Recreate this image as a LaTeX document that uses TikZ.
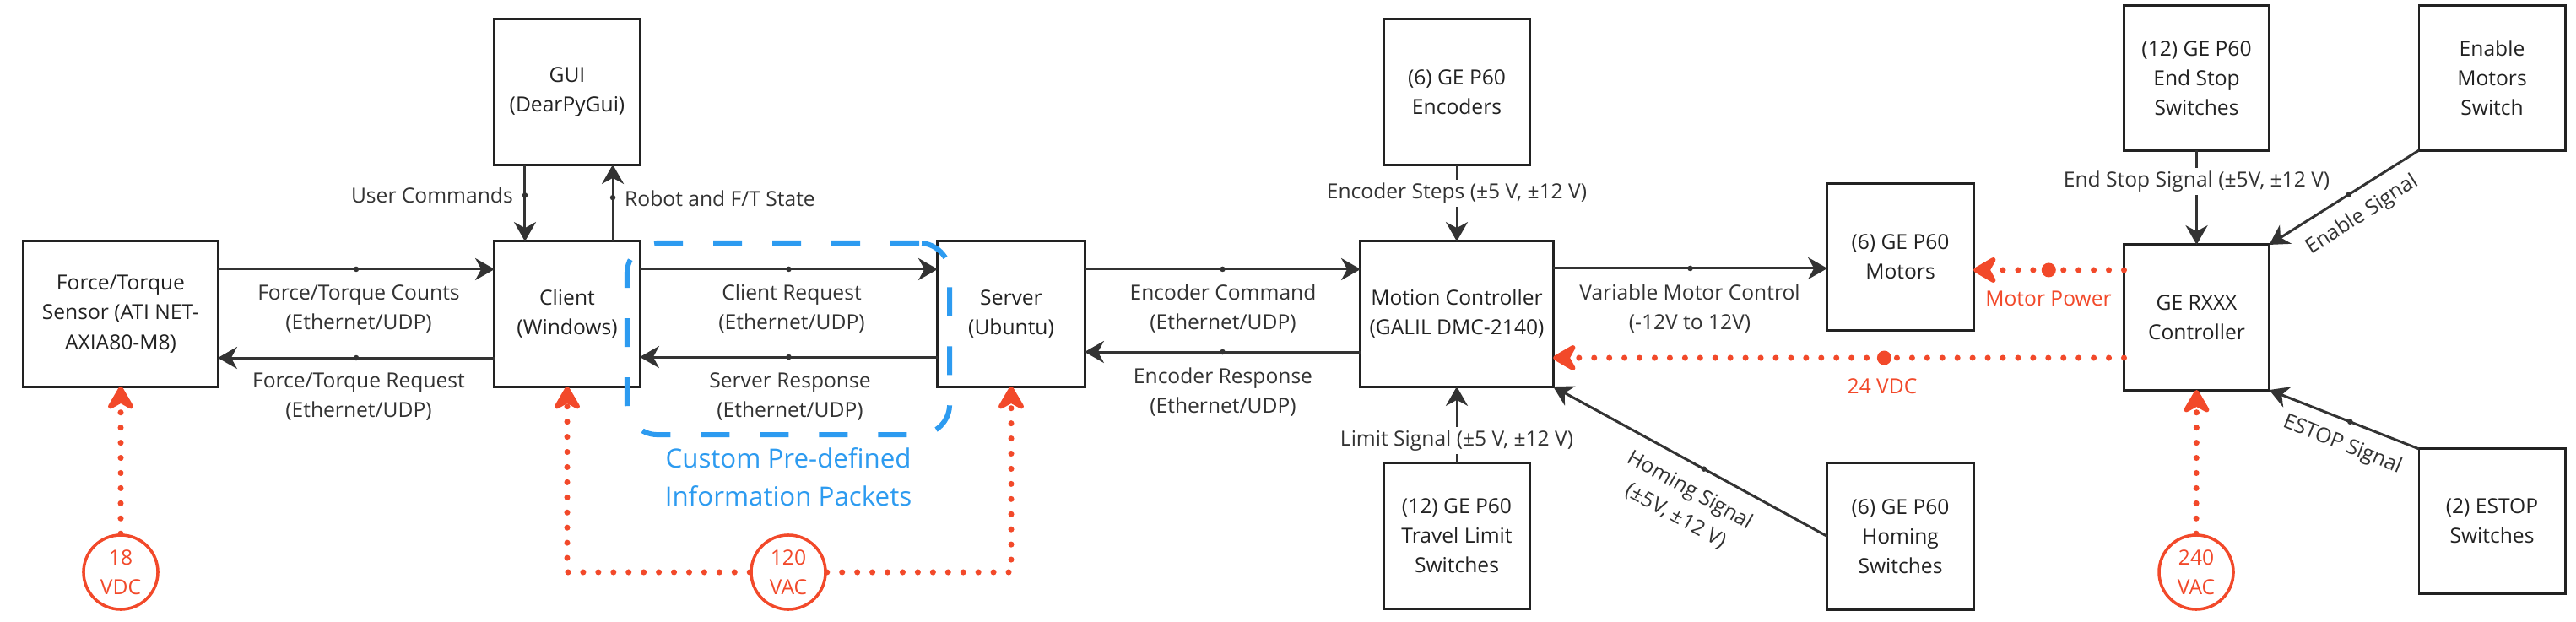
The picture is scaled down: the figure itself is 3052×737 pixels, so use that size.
\documentclass[tikz,border=0pt]{standalone}
\usepackage{fontspec}
\setmainfont{Open Sans}
\usetikzlibrary{arrows.meta}
\definecolor{ink}{HTML}{333333}
\definecolor{boxc}{HTML}{222222}
\definecolor{pwrc}{HTML}{F2492A}
\definecolor{pktc}{HTML}{2D9BF0}
\newcommand{\dfont}{\fontsize{7pt}{10pt}\selectfont}
\newcommand{\bfontx}{\fontsize{8.9pt}{12.8pt}\selectfont}
\begin{document}
\begin{tikzpicture}[x=0.01cm,y=-0.01cm,
  box/.style={draw=boxc, line width=0.85pt, fill=white, align=center, inner sep=0pt, outer sep=0pt, text=boxc, font=\dfont},
  sq/.style={minimum width=1.72cm, minimum height=1.72cm},
  arr/.style={draw=ink, line width=0.85pt, -{Stealth[length=6.5pt,width=7.4pt,inset=2pt]}},
  dot/.style={circle, fill=ink, inner sep=0pt, minimum size=0.065cm},
  lbl/.style={text=ink, align=center, font=\dfont, inner sep=1pt},
  pline/.style={draw=pwrc, line width=2pt, line cap=round, dash pattern=on 0pt off 5.1pt, -{Stealth[length=9.5pt,width=11pt,inset=3pt,round]}},
  bigdot/.style={circle, fill=pwrc, inner sep=0pt, minimum size=0.17cm},
  pwr/.style={circle, draw=pwrc, fill=white, line width=1pt, text=pwrc, align=center, minimum size=0.88cm, inner sep=0pt, font=\dfont},
  pktbox/.style={draw=pktc, line width=1.7pt, dash pattern=on 9.7pt off 10.2pt, rounded corners=0.36cm, inner sep=0pt, minimum width=3.82cm, minimum height=2.27cm},
  pktlbl/.style={text=pktc, align=center, font=\bfontx, inner sep=0pt},
  ]
\fill[white] (0,0) rectangle (3052,737);
\useasboundingbox (0,0) rectangle (3052,737);

% boxes
\node[box, minimum width=2.30cm, minimum height=1.72cm] (ft) at (143,372) {Force/Torque\\Sensor (ATI NET-\\AXIA80-M8)};
\node[box, sq] (gui) at (672,109) {GUI\\(DearPyGui)};
\node[box, sq] (client) at (672,372) {Client\\(Windows)};
\node[box, minimum width=1.74cm, minimum height=1.72cm] (server) at (1198,372) {Server\\(Ubuntu)};
\node[box, minimum width=2.28cm, minimum height=1.72cm] (motion) at (1726,372) {Motion Controller\\(GALIL DMC-2140)};
\node[box, minimum width=1.73cm, minimum height=1.72cm] (enc) at (1726,109) {(6) GE P60\\Encoders};
\node[box, sq] (travel) at (1726,635) {(12) GE P60\\Travel Limit\\Switches};
\node[box, minimum width=1.73cm, minimum height=1.73cm] (homing) at (2251.5,635.5) {(6) GE P60\\Homing\\Switches};
\node[box, minimum width=1.73cm, minimum height=1.73cm] (motors) at (2251.5,304.5) {(6) GE P60\\Motors};
\node[box, minimum width=1.72cm, minimum height=1.71cm] (endstop) at (2602.5,92.5) {(12) GE P60\\End Stop\\Switches};
\node[box, minimum width=1.73cm, minimum height=1.71cm] (enable) at (2952.5,92.5) {Enable\\Motors\\Switch};
\node[box, sq] (gerx) at (2602.5,376) {GE RXXX\\Controller};
\node[box, minimum width=1.73cm, minimum height=1.71cm] (estop) at (2952.5,617.5) {(2) ESTOP\\Switches};

% packet region
\node[pktbox] (pkt) at (934,401.5) {};
\node[pktlbl] (pkttext) at (934,565.5) {Custom Pre-defined\\Information Packets};

% power sources
\node[pwr] (v18) at (143,678) {18\\VDC};
\node[pwr] (v120) at (934,678) {120\\VAC};
\node[pwr] (v240) at (2602,678) {240\\VAC};

% data connectors
\draw[arr] ([yshift=0.53cm]ft.east) -- node[dot]{} ([yshift=0.53cm]client.west);
\draw[arr] ([yshift=-0.52cm]client.west) -- node[dot]{} ([yshift=-0.52cm]ft.east);
\draw[arr] ([xshift=-0.5cm]gui.south) -- node[dot,pos=0.4]{} ([xshift=-0.5cm]client.north);
\draw[arr] ([xshift=0.54cm]client.north) -- node[dot,pos=0.57]{} ([xshift=0.54cm]gui.south);
\draw[arr] ([yshift=0.53cm]client.east) -- node[dot]{} ([yshift=0.53cm]server.west);
\draw[arr] ([yshift=-0.51cm]server.west) -- node[dot]{} ([yshift=-0.51cm]client.east);
\draw[arr] ([yshift=0.53cm]server.east) -- node[dot]{} ([yshift=0.53cm]motion.west);
\draw[arr] ([yshift=-0.45cm]motion.west) -- node[dot]{} ([yshift=-0.45cm]server.east);
\draw[arr] (enc.south) -- (motion.north);
\draw[arr] (travel.north) -- (motion.south);
\coordinate (vm) at ([yshift=0.54cm]motion.east);
\draw[arr] (vm) -- node[dot]{} (vm -| motors.west);
\draw[arr] (homing.west) -- node[dot,pos=0.45]{} (motion.south east);
\draw[arr] (endstop.south) -- (gerx.north);
\draw[arr] (enable.south west) -- node[dot,pos=0.47]{} (gerx.north east);
\draw[arr] (estop.north west) -- node[dot,pos=0.46]{} (gerx.south east);

% power connectors
\draw[pline] (v18.north) -- (ft.south);
\draw[pline] (v120.west) -| (client.south);
\draw[pline] (v120.east) -| (server.south);
\draw[pline] (v240.north) -- (gerx.south);
\coordinate (p24) at ([yshift=-0.48cm]gerx.west);
\draw[pline] (p24) -- node[bigdot,pos=0.42]{} (p24 -| motion.east);
\coordinate (pm) at ([yshift=0.56cm]gerx.west);
\draw[pline] (pm) -- node[bigdot]{} (pm -| motors.east);

% labels
\node[lbl] (l1) at (425,366) {Force/Torque Counts\\(Ethernet/UDP)};
\node[lbl] (l2) at (425,470.5) {Force/Torque Request\\(Ethernet/UDP)};
\node[lbl, anchor=east] (l3) at (612,231) {User Commands};
\node[lbl, anchor=west] (l4) at (736,235) {Robot and F/T State};
\node[lbl] (l5) at (938,366) {Client Request\\(Ethernet/UDP)};
\node[lbl] (l6) at (936,470) {Server Response\\(Ethernet/UDP)};
\node[lbl] (l7) at (1449,366) {Encoder Command\\(Ethernet/UDP)};
\node[lbl] (l8) at (1449,464.5) {Encoder Response\\(Ethernet/UDP)};
\node[lbl, fill=white] (l9) at (1726,229) {Encoder Steps (±5 V, ±12 V)};
\node[lbl, fill=white] (l10) at (1726,522) {Limit Signal (±5 V, ±12 V)};
\node[lbl] (l11) at (2002,366) {Variable Motor Control\\(-12V to 12V)};
\node[lbl, rotate=-29] (l12) at (1994,596) {Homing Signal\\(±5V, ±12 V)};
\node[lbl, fill=white] (l13) at (2602.5,215) {End Stop Signal (±5V, ±12 V)};
\node[lbl, rotate=33] (l14) at (2799,255) {Enable Signal};
\node[lbl, rotate=-22] (l15) at (2775,527) {ESTOP Signal};
\node[lbl, text=pwrc] (l16) at (2427,354) {Motor Power};
\node[lbl, text=pwrc] (l17) at (2230,458) {24 VDC};
\end{tikzpicture}
\end{document}
